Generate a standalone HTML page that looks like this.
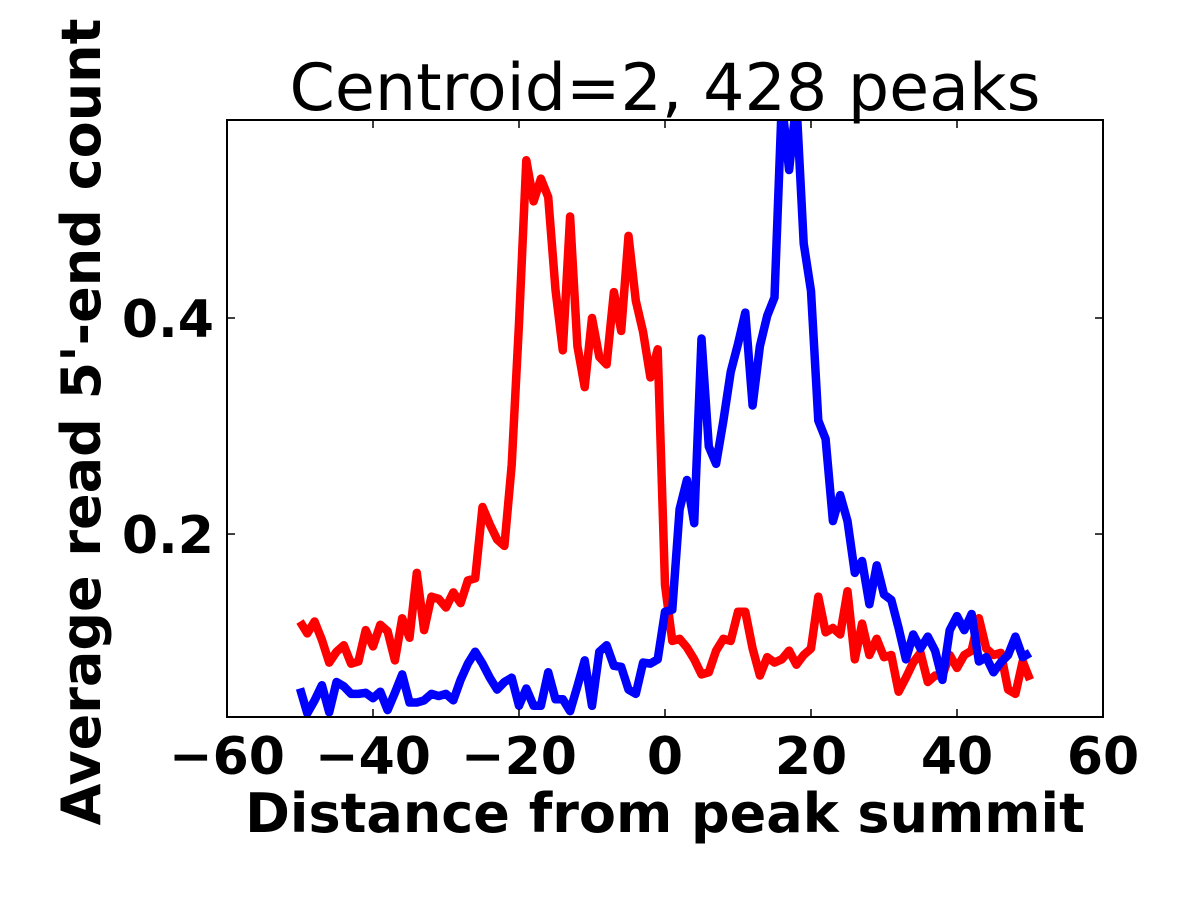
<!DOCTYPE html>
<html><head><meta charset="utf-8"><style>
body{margin:0;background:#fff;}
svg text{font-family:"DejaVu Sans","Liberation Sans",sans-serif;}
</style></head><body>
<svg id="chart" width="1200" height="900">
<defs><clipPath id="clip"><rect x="227" y="120" width="876" height="597"/></clipPath></defs>
<rect width="1200" height="900" fill="#fff"/>
<g id="series" clip-path="url(#clip)"></g>
<rect x="227" y="120" width="876" height="597" fill="none" stroke="#000" stroke-width="2"/>
<g id="ticks"></g>
<text x="665" y="110" font-size="65" text-anchor="middle">Centroid=2, 428 peaks</text>
<text x="665" y="832" font-size="54" font-weight="bold" text-anchor="middle">Distance from peak summit</text>
<text transform="translate(100,422) rotate(-90)" font-size="54" font-weight="bold" text-anchor="middle">Average read 5'-end count</text>
</svg>
<script>
const xs = [];
for (let i = -50; i <= 50; i++) xs.push(i);
const redValues = [.119,.108,.119,.102,.081,.091,.097,.080,.082,.111,.096,.116,.110,.083,.122,.104,.164,.111,.142,.140,.132,.146,.136,.157,.159,.225,.209,.195,.189,.264,.395,.546,.508,.529,.512,.426,.370,.494,.374,.336,.400,.364,.357,.424,.388,.476,.416,.387,.345,.371,
.153,
.101,.103,.095,.084,.070,.072,.092,.103,.101,.128,.128,.094,.069,.086,.081,.084,.092,.079,.088,.094,.142,.109,.113,.107,.147,.084,.117,.088,.103,.086,.088,.054,.067,.081,.090,.063,.069,.069,.088,.076,.088,.092,.122,.094,.088,.090,.056,.052,.082,.065];
const blueValues = [.057,.034,.046,.060,.035,.063,.059,.052,.052,.053,.048,.054,.037,.053,.070,.044,.044,.046,.052,.050,.052,.046,.065,.080,.091,.080,.067,.056,.063,.067,.041,.057,.041,.041,.072,.047,.047,.036,.059,.083,.041,.091,.097,.078,.077,.056,.052,.081,.080,.084,
.128,
.130,.223,.250,.210,.381,.281,.265,.305,.350,.376,.405,.319,.374,.402,.419,.600,.537,.600,.469,.425,.305,.288,.212,.236,.212,.164,.175,.135,.171,.144,.139,.113,.084,.107,.094,.105,.092,.065,.111,.124,.111,.126,.082,.086,.072,.081,.088,.105,.086,.090];
const xTicks = [-60,-40,-20,0,20,40,60];
const xTickLabels = ["\u221260","\u221240","\u221220","0","20","40","60"];
const yTicks = [0.2,0.4];
const yTickLabels = ["0.2","0.4"];

const X0=227,X1=1103,Y0=717,Y1=120,XMIN=-60,XMAX=60,YMIN=0.0306,YMAX=0.5833;
const sx=v=>X0+(v-XMIN)/(XMAX-XMIN)*(X1-X0);
const sy=v=>Y0-(v-YMIN)/(YMAX-YMIN)*(Y0-Y1);
const NS="http://www.w3.org/2000/svg";
const g=document.getElementById('series');
function line(vals,color,name){
  const p=document.createElementNS(NS,'polyline');
  p.setAttribute('points',vals.map((v,i)=>sx(xs[i])+','+sy(v)).join(' '));
  p.setAttribute('fill','none');p.setAttribute('stroke',color);
  p.setAttribute('stroke-width','8.5');p.setAttribute('stroke-linejoin','round');
  
  
  g.appendChild(p);
}
line(redValues,'#ff0000','red-series-line');
line(blueValues,'#0000ff','blue-series-line');
const t=document.getElementById('ticks');
function mk(tag,attrs){const e=document.createElementNS(NS,tag);for(const k in attrs)e.setAttribute(k,attrs[k]);t.appendChild(e);return e;}
xTicks.forEach((v,i)=>{
  const x=sx(v);
  mk('line',{x1:x,x2:x,y1:Y0,y2:Y0-8,stroke:'#000','stroke-width':1.5});
  mk('line',{x1:x,x2:x,y1:Y1,y2:Y1+8,stroke:'#000','stroke-width':1.5});
  const tx=mk('text',{x:x,y:774,'font-size':52,'font-weight':'bold','text-anchor':'middle'});
  tx.textContent=xTickLabels[i];
  
  
});
yTicks.forEach((v,i)=>{
  const y=sy(v);
  mk('line',{x1:X0,x2:X0+8,y1:y,y2:y,stroke:'#000','stroke-width':1.5});
  mk('line',{x1:X1,x2:X1-8,y1:y,y2:y,stroke:'#000','stroke-width':1.5});
  const tx=mk('text',{x:214,y:y+19,'font-size':52,'font-weight':'bold','text-anchor':'end'});
  tx.textContent=yTickLabels[i];
  
  
});
</script>
</body></html>
